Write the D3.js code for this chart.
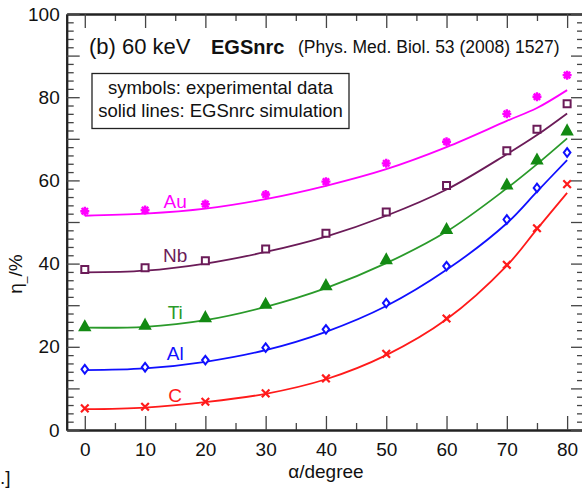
<!DOCTYPE html>
<html>
<head>
<meta charset="utf-8">
<script src="https://cdn.jsdelivr.net/npm/d3@7"></script>
<style>
  body { margin: 0; background: #fff; }
  text { font-family: "Liberation Sans", Arial, Helvetica, sans-serif; }
</style>
</head>
<body>
<svg width="582" height="496"></svg>
<script>
var angles = [0, 10, 20, 30, 40, 50, 60, 70, 75, 80];

var expAu = [52.6, 52.9, 54.3, 56.6, 59.7, 64.1, 69.3, 76.0, 80.1, 85.3];
var simAu = [51.5, 52.0, 53.2, 55.5, 58.7, 62.7, 68.0, 74.3, 77.4, 81.7];
var expNb = [38.6, 39.0, 40.7, 43.5, 47.3, 52.4, 58.8, 67.1, 72.3, 78.4];
var simNb = [37.9, 38.3, 40.0, 42.8, 46.5, 51.5, 57.8, 66.3, 70.9, 76.1];
var expTi = [24.8, 25.2, 27.0, 30.2, 34.7, 40.9, 48.2, 58.9, 64.9, 71.9];
var simTi = [24.6, 24.8, 26.4, 29.6, 34.1, 40.1, 47.7, 58.1, 63.9, 70.1];
var expAl = [14.6, 15.1, 16.8, 19.8, 24.2, 30.5, 39.4, 50.6, 58.2, 66.7];
var simAl = [14.4, 14.8, 16.4, 19.2, 23.6, 29.8, 38.5, 49.7, 57.3, 64.9];
var expC  = [5.2, 5.6, 6.8, 8.8, 12.4, 18.3, 26.8, 39.7, 48.5, 59.1];
var simC  = [5.0, 5.4, 6.7, 8.7, 12.2, 18.0, 26.6, 39.5, 48.3, 57.0];

var names = ["Au", "Nb", "Ti", "Al", "C"];
// where each element name sits: [angle, eta]
var labelPos = [[15, 53.4], [15, 40.4], [15, 26.7], [15, 16.8], [15, 6.7]];

var xTicks = [0, 10, 20, 30, 40, 50, 60, 70, 80];
var yTicks = [0, 20, 40, 60, 80, 100];

var svg = d3.select("svg");

var xScale = d3.scaleLinear().domain([-3, 82.8]).range([66.7, 584]);
var yScale = d3.scaleLinear().domain([0, 100]).range([430, 14]);

var series = [
  {name: "Au", exp: expAu, sim: simAu, color: "#ff00ff", mark: "star"},
  {name: "Nb", exp: expNb, sim: simNb, color: "#6b1b58", mark: "square"},
  {name: "Ti", exp: expTi, sim: simTi, color: "#2a9a2a", mark: "triangle"},
  {name: "Al", exp: expAl, sim: simAl, color: "#1010ff", mark: "diamond"},
  {name: "C",  exp: expC,  sim: simC,  color: "#ff1a1a", mark: "times"}
];

// custom marker shapes
var marks = {
  star: {draw: function(c) {
    for (var i = 0; i < 4; i++) {
      var a = i * Math.PI / 4;
      c.moveTo(-4.5 * Math.cos(a), -4.5 * Math.sin(a));
      c.lineTo(4.5 * Math.cos(a), 4.5 * Math.sin(a));
    }
  }},
  square: {draw: function(c) { c.rect(-3.5, -3.5, 7, 7); }},
  triangle: {draw: function(c) {
    c.moveTo(0, -5.5); c.lineTo(5, 3.5); c.lineTo(-5, 3.5); c.closePath();
  }},
  diamond: {draw: function(c) {
    c.moveTo(0, -4.3); c.lineTo(3.3, 0); c.lineTo(0, 4.3); c.lineTo(-3.3, 0); c.closePath();
  }},
  times: {draw: function(c) {
    c.moveTo(-3.8, -3.8); c.lineTo(3.8, 3.8);
    c.moveTo(-3.8, 3.8); c.lineTo(3.8, -3.8);
  }}
};

// axes
var axisColor = "#222";
function styleAxis(g) {
  g.select(".domain").attr("stroke", axisColor).attr("stroke-width", 2);
  g.selectAll(".tick line").attr("stroke", "#444").attr("stroke-width", 1.3);
  g.selectAll(".tick text").attr("fill", "#111").style("font-size", "19px")
    .style("font-family", "'Liberation Sans', Arial, sans-serif");
}

var minorX = d3.range(5, 85, 10);
var minorY = d3.range(0, 101, 2).filter(function(v) { return v % 10 != 0; });
var midY = d3.range(0, 101, 10);

// bottom
svg.append("g").attr("transform", "translate(0,430)")
  .call(d3.axisBottom(xScale).tickValues(minorX).tickSize(-7).tickSizeOuter(0).tickFormat(""))
  .call(styleAxis);
svg.append("g").attr("transform", "translate(0,430)")
  .call(d3.axisBottom(xScale).tickValues(xTicks).tickSize(-14).tickSizeOuter(0).tickPadding(13))
  .call(styleAxis);
// top
svg.append("g").attr("transform", "translate(0,14)")
  .call(d3.axisTop(xScale).tickValues(minorX).tickSize(-7).tickSizeOuter(0).tickFormat(""))
  .call(styleAxis);
svg.append("g").attr("transform", "translate(0,14)")
  .call(d3.axisTop(xScale).tickValues(xTicks).tickSize(-14).tickSizeOuter(0).tickFormat(""))
  .call(styleAxis);
// left
svg.append("g").attr("transform", "translate(66.7,0)")
  .call(d3.axisLeft(yScale).tickValues(minorY).tickSize(-7).tickSizeOuter(0).tickFormat(""))
  .call(styleAxis);
svg.append("g").attr("transform", "translate(66.7,0)")
  .call(d3.axisLeft(yScale).tickValues(midY).tickSize(-13).tickSizeOuter(0).tickPadding(7)
    .tickFormat(function(d) { return yTicks.indexOf(d) >= 0 ? d : ""; }))
  .call(styleAxis);
// right
svg.append("g").attr("transform", "translate(584,0)")
  .call(d3.axisRight(yScale).tickValues(minorY).tickSize(-7).tickSizeOuter(0).tickFormat(""))
  .call(styleAxis);
svg.append("g").attr("transform", "translate(584,0)")
  .call(d3.axisRight(yScale).tickValues(midY).tickSize(-13).tickSizeOuter(0).tickFormat(""))
  .call(styleAxis);

// simulation lines
var line = d3.line()
  .x(function(d) { return xScale(d[0]); })
  .y(function(d) { return yScale(d[1]); })
  .curve(d3.curveCatmullRom.alpha(0.5));

series.forEach(function(s) {
  svg.append("path")
    .datum(angles.map(function(a, i) { return [a, s.sim[i]]; }))
    .attr("d", line)
    .attr("fill", "none")
    .attr("stroke", s.color)
    .attr("stroke-width", 1.8);
});

// experimental symbols
series.forEach(function(s) {
  var filled = s.mark == "triangle";
  svg.append("g").selectAll("path")
    .data(angles.map(function(a, i) { return [a, s.exp[i]]; }))
    .enter()
    .append("path")
    .attr("transform", function(d) { return "translate(" + xScale(d[0]) + "," + yScale(d[1]) + ")"; })
    .attr("d", d3.symbol().type(marks[s.mark]))
    .attr("fill", filled ? "#138a13" : (s.mark == "star" || s.mark == "times" ? "none" : "#fff"))
    .attr("stroke", filled ? "#138a13" : s.color)
    .attr("stroke-width", s.mark == "star" ? 2.4 : (s.mark == "times" ? 2.2 : 2));
});

// element names
series.forEach(function(s, i) {
  svg.append("text")
    .attr("x", xScale(labelPos[i][0]))
    .attr("y", yScale(labelPos[i][1]))
    .attr("text-anchor", "middle")
    .attr("fill", s.color)
    .style("font-size", "19px")
    .text(s.name);
});

// title line
svg.append("text").attr("x", 89).attr("y", 54).style("font-size", "22px").attr("fill", "#111")
  .text("(b) 60 keV");
svg.append("text").attr("x", 211).attr("y", 54).style("font-size", "20px").style("font-weight", "bold")
  .attr("fill", "#111").text("EGSnrc");
svg.append("text").attr("x", 298).attr("y", 53).style("font-size", "17.5px").attr("fill", "#111")
  .text("(Phys. Med. Biol. 53 (2008) 1527)");

// legend box
svg.append("rect").attr("x", 92).attr("y", 73.5).attr("width", 257).attr("height", 55)
  .attr("fill", "#fff").attr("stroke", "#222").attr("stroke-width", 1.3);
svg.append("text").attr("x", 220.5).attr("y", 94).attr("text-anchor", "middle")
  .style("font-size", "18.5px").attr("fill", "#111").text("symbols: experimental data");
svg.append("text").attr("x", 220.5).attr("y", 117).attr("text-anchor", "middle")
  .style("font-size", "18.5px").attr("fill", "#111").text("solid lines: EGSnrc simulation");

// axis titles
svg.append("text").attr("x", xScale(40)).attr("y", 478).attr("text-anchor", "middle")
  .style("font-size", "19px").attr("fill", "#111").text("\u03b1/degree");

var yl = svg.append("text").attr("transform", "translate(22,274) rotate(-90)")
  .attr("text-anchor", "middle").style("font-size", "19px").attr("fill", "#111");
yl.append("tspan").text("\u03b7");
yl.append("tspan").attr("dy", 3).style("font-size", "12px").text("_");
yl.append("tspan").attr("dy", -3).text("/%");

// caption fragment at the bottom left
svg.append("text").attr("x", 0).attr("y", 484).style("font-size", "19px").attr("fill", "#111").text(".]");
</script>
</body>
</html>
